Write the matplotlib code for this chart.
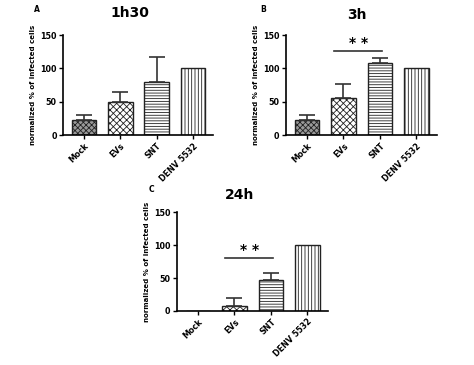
import matplotlib
matplotlib.use("Agg")
import matplotlib.pyplot as plt

categories = ["Mock", "EVs", "SNT", "DENV 5532"]
vals_1h30 = [22, 50, 80, 100]
err_1h30 = [8, 15, 37, 0]
vals_3h = [23, 56, 108, 100]
err_3h = [7, 20, 8, 0]
vals_24h = [0, 7, 47, 100]
err_24h = [0, 12, 11, 0]
sig_3h = 126
sig_24h = 81

hatches = ["xxxxxx", "xxxxx", "------", "|||||"]
faces = ["#9a9a9a", "white", "white", "white"]

plt.rcParams['hatch.linewidth'] = 0.6

fig = plt.figure(figsize=(4.74, 3.65), dpi=100)

def panel(rect, vals, errs, title, letter, letter_xy, title_xy, sig=None):
    ax = fig.add_axes(rect)
    x = list(range(len(categories)))
    for i in x:
        ax.bar(i, vals[i], width=0.68, color=faces[i], edgecolor="#222222",
               hatch=hatches[i], linewidth=1.0, zorder=2)
        if errs[i] > 0:
            ax.errorbar(i, vals[i], yerr=[[0], [errs[i]]], fmt="none",
                        ecolor="#333333", elinewidth=1.2, capsize=6, capthick=1.2, zorder=3)
    ax.set_xlim(-0.58, 3.55)
    ax.set_ylim(0, 150)
    ax.set_yticks([0, 50, 100, 150])
    ax.set_xticks(x)
    ax.set_xticklabels(categories, rotation=45, ha="right", rotation_mode="anchor",
                       fontsize=5.8, fontweight="bold")
    for lab in ax.get_yticklabels():
        lab.set_fontsize(5.8)
        lab.set_fontweight("bold")
    ax.spines["top"].set_visible(False)
    ax.spines["right"].set_visible(False)
    ax.spines["left"].set_linewidth(1.2)
    ax.spines["bottom"].set_linewidth(1.2)
    ax.tick_params(length=3, width=1, pad=1.5)
    ax.set_ylabel("normalized % of infected cells", fontsize=5, fontweight="bold", labelpad=3)
    if sig is not None:
        ax.plot([0.75, 2.05], [sig, sig], color="#333333", lw=1.2, clip_on=False)
        ax.text(1.4, sig + 1, "* *", ha="center", va="bottom", fontsize=10, fontweight="bold")
    fig.text(title_xy[0], title_xy[1], title, fontsize=10, fontweight="bold", ha="center", va="center")
    fig.text(letter_xy[0], letter_xy[1], letter, fontsize=5.5, fontweight="bold", ha="center", va="center")
    return ax

panel([0.133, 0.630, 0.316, 0.274], vals_1h30, err_1h30, "1h30", "A",
      (37/474, 1-9/365), (130/474, 1-13/365))
panel([0.603, 0.630, 0.318, 0.274], vals_3h, err_3h, "3h", "B",
      (263/474, 1-9/365), (357/474, 1-15/365), sig=sig_3h)
panel([0.373, 0.148, 0.318, 0.271], vals_24h, err_24h, "24h", "C",
      (151/474, 1-190/365), (240/474, 1-195/365), sig=sig_24h)

fig.savefig("out.png", dpi=100)
